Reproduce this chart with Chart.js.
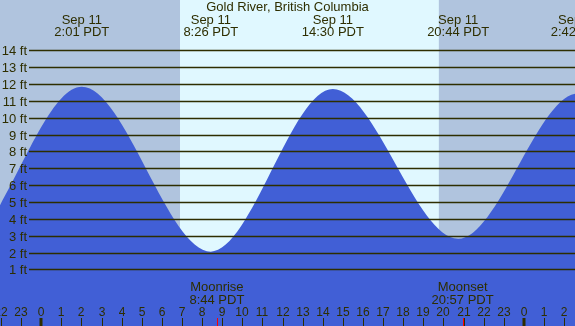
<!DOCTYPE html>
<html>
<head>
<meta charset="utf-8">
<script src="https://cdn.jsdelivr.net/npm/chart.js@4"></script>
<style>
  html, body { margin: 0; padding: 0; background: #b0c4de; }
  canvas { display: block; }
</style>
</head>
<body>
<canvas id="chart" width="575" height="326"></canvas>
<script>
// tide turning points (hours from Sep 11 00:00, feet); first and last are off screen
const tideHours = [-10.5, -4.2, 2.017, 8.433, 14.5, 20.733, 26.7, 33.0];
const tideFeet = [11.5, 2.13, 11.84, 2.05, 11.7, 2.82, 11.45, 2.0];

// labelled tide events at the top
const eventHours = [2.017, 8.433, 14.5, 20.733, 26.7];
const eventDates = ['Sep 11', 'Sep 11', 'Sep 11', 'Sep 11', 'Sep 11'];
const eventTimes = ['2:01 PDT', '8:26 PDT', '14:30 PDT', '20:44 PDT', '2:42 PDT'];

// sunrise / sunset
const dayHours = [6.9, 19.77];

// moon
const moonHours = [8.733, 20.95];
const moonNames = ['Moonrise', 'Moonset'];
const moonTimes = ['8:44 PDT', '20:57 PDT'];

// axes
const hourTicks = [-2, -1, 0, 1, 2, 3, 4, 5, 6, 7, 8, 9, 10, 11, 12, 13, 14, 15, 16, 17, 18, 19, 20, 21, 22, 23, 24, 25, 26];
const hourLabels = ['22', '23', '0', '1', '2', '3', '4', '5', '6', '7', '8', '9', '10', '11', '12', '13', '14', '15', '16', '17', '18', '19', '20', '21', '22', '23', '0', '1', '2'];
const ftTicks = [1, 2, 3, 4, 5, 6, 7, 8, 9, 10, 11, 12, 13, 14];
const ftLabels = ['1 ft', '2 ft', '3 ft', '4 ft', '5 ft', '6 ft', '7 ft', '8 ft', '9 ft', '10 ft', '11 ft', '12 ft', '13 ft', '14 ft'];

const title = 'Gold River, British Columbia';
const ink = '#2e2e00';
const font = '"Liberation Sans", Arial, sans-serif';

// фон: ніч / день
const backdrop = {
    id: 'backdrop',
    beforeDatasetsDraw(chart) {
        const { ctx, chartArea: a } = chart;
        const x = chart.scales.x;
        ctx.save();
        ctx.fillStyle = '#b0c4de';
        ctx.fillRect(a.left, a.top, a.right - a.left, a.bottom - a.top);
        const x0 = x.getPixelForValue(dayHours[0]);
        const x1 = x.getPixelForValue(dayHours[1]);
        ctx.fillStyle = '#e0f8ff';
        ctx.fillRect(x0, a.top, x1 - x0, a.bottom - a.top);
        ctx.restore();
    }
};

// лінії, підписи
const overlay = {
    id: 'overlay',
    afterDatasetsDraw(chart) {
        const { ctx, chartArea: a } = chart;
        const x = chart.scales.x;
        const y = chart.scales.y;
        ctx.save();

        // feet lines + labels
        ctx.strokeStyle = ink;
        ctx.lineWidth = 1.3;
        ctx.fillStyle = ink;
        ctx.font = '13px ' + font;
        ctx.textAlign = 'right';
        ctx.textBaseline = 'middle';
        ftTicks.forEach((v, i) => {
            const py = Math.round(y.getPixelForValue(v)) + 0.5;
            ctx.beginPath();
            ctx.moveTo(29, py);
            ctx.lineTo(a.right, py);
            ctx.stroke();
            ctx.fillText(ftLabels[i], 27, py + 1);
        });

        // title
        ctx.textAlign = 'center';
        ctx.textBaseline = 'alphabetic';
        ctx.fillText(title, (a.left + a.right) / 2, 11);

        // tide events
        eventHours.forEach((h, i) => {
            const px = x.getPixelForValue(h);
            ctx.fillText(eventDates[i], px, 24);
            ctx.fillText(eventTimes[i], px, 36);
        });

        // moon
        ctx.lineWidth = 1;
        moonHours.forEach((h, i) => {
            const px = x.getPixelForValue(h);
            ctx.fillText(moonNames[i], px, 291);
            ctx.fillText(moonTimes[i], px, 304);
            ctx.strokeStyle = '#ff0000';
            ctx.beginPath();
            ctx.moveTo(Math.round(px) + 0.5, 318);
            ctx.lineTo(Math.round(px) + 0.5, a.bottom);
            ctx.stroke();
        });

        // hour ticks
        ctx.font = '12px ' + font;
        ctx.strokeStyle = ink;
        hourTicks.forEach((h, i) => {
            const px = Math.round(x.getPixelForValue(h));
            ctx.fillText(hourLabels[i], px, 316);
            const midnight = hourLabels[i] === '0';
            ctx.lineWidth = midnight ? 3 : 1;
            ctx.beginPath();
            ctx.moveTo(midnight ? px : px + 0.5, 318);
            ctx.lineTo(midnight ? px : px + 0.5, a.bottom);
            ctx.stroke();
        });

        ctx.restore();
    }
};

new Chart(document.getElementById('chart').getContext('2d'), {
    type: 'line',
    data: {
        datasets: [{
            data: tideHours.map((h, i) => ({ x: h, y: tideFeet[i] })),
            fill: 'start',
            backgroundColor: '#415fd6',
            borderWidth: 0,
            pointRadius: 0,
            cubicInterpolationMode: 'monotone'
        }]
    },
    options: {
        responsive: false,
        devicePixelRatio: 1,
        animation: false,
        events: [],
        layout: { padding: 0 },
        elements: { line: { capBezierPoints: false } },
        plugins: { legend: { display: false }, tooltip: { enabled: false } },
        scales: {
            x: { type: 'linear', min: -2.05, max: 26.54, display: false },
            y: { min: -2.36, max: 16.99, display: false }
        }
    },
    plugins: [backdrop, overlay]
});
</script>
</body>
</html>
